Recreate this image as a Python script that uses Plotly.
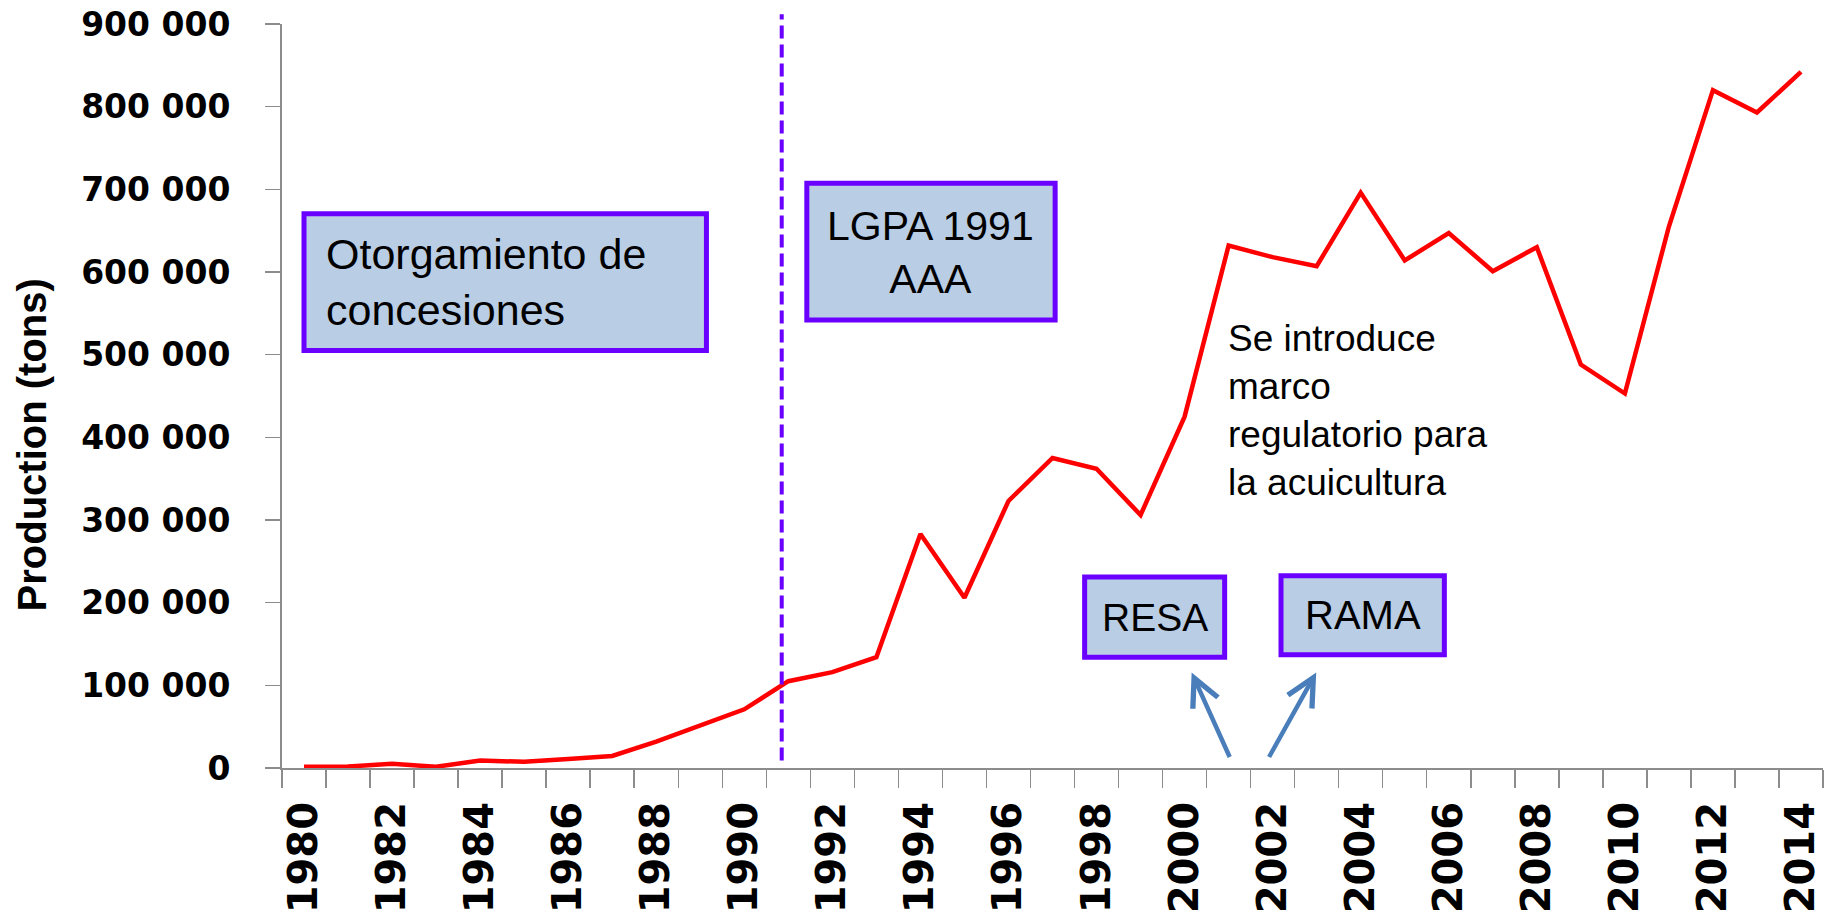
import plotly.graph_objects as go

years = [1980, 1981, 1982, 1983, 1984, 1985, 1986, 1987, 1988, 1989,
         1990, 1991, 1992, 1993, 1994, 1995, 1996, 1997, 1998, 1999,
         2000, 2001, 2002, 2003, 2004, 2005, 2006, 2007, 2008, 2009,
         2010, 2011, 2012, 2013, 2014]
production = [1500, 1800, 5000, 1500, 9000, 7500, 11000, 14500, 32000, 51000,
              71000, 105000, 116000, 134000, 283000, 206000, 323000, 375000, 362000, 306000,
              425000, 632000, 618000, 607000, 696000, 614000, 647000, 601000, 630000, 488000,
              453000, 655000, 820000, 793000, 842000]
tick_years = [1980, 1982, 1984, 1986, 1988, 1990, 1992, 1994, 1996, 1998,
              2000, 2002, 2004, 2006, 2008, 2010, 2012, 2014]
y_ticks = [0, 100000, 200000, 300000, 400000, 500000, 600000, 700000, 800000, 900000]
y_tick_text = ["0", "100 000", "200 000", "300 000", "400 000", "500 000",
               "600 000", "700 000", "800 000", "900 000"]
boundaries = [y - 0.5 for y in years] + [years[-1] + 0.5]

VIOLET = "#6A00FF"
BOXFILL = "#B9CDE5"
ARROW = "#4A7EBB"
TXT = "Liberation Sans, Arial, sans-serif"
TICKFONT = dict(family="DejaVu Sans, Verdana, sans-serif", color="black", weight="bold")

fig = go.Figure()
fig.add_trace(go.Scatter(x=years, y=production, mode="lines",
                         line=dict(color="#FF0000", width=4.5), hoverinfo="skip",
                         showlegend=False))

fig.update_layout(
    width=1845, height=921,
    margin=dict(l=282, r=22, t=24, b=153, autoexpand=False),
    paper_bgcolor="white", plot_bgcolor="white",
    showlegend=False,
    xaxis=dict(range=[1979.5, 2014.5], tickmode="array", tickvals=tick_years,
               ticktext=[str(t) for t in tick_years], tickangle=-90,
               ticks="", showgrid=False, zeroline=False, automargin=False,
               showline=True, linecolor="#8C8C8C", linewidth=2,
               tickfont=dict(size=40, **TICKFONT), ticklabelstandoff=16,
               ticklabeloverflow="allow",
               minor=dict(tickmode="array", tickvals=boundaries, ticks="outside",
                          ticklen=18, tickcolor="#8C8C8C", tickwidth=1.5, showgrid=False)),
    yaxis=dict(range=[0, 900000], tickmode="array", tickvals=y_ticks, ticktext=y_tick_text,
               ticks="outside", ticklen=15, tickcolor="#8C8C8C", tickwidth=1.5,
               showgrid=False, zeroline=False, showline=True, linecolor="#8C8C8C",
               linewidth=2, automargin=False, ticklabeloverflow="allow",
               tickfont=dict(size=33, **TICKFONT), ticklabelstandoff=28),
)

# y-axis title
fig.add_annotation(xref="paper", yref="paper", x=-0.162, y=0.434, text="Production (tons)",
                   textangle=-90, showarrow=False, xanchor="center", yanchor="middle",
                   font=dict(family=TXT, size=40, color="black", weight="bold"))

# vertical dashed line (LGPA 1991)
fig.add_shape(type="line", xref="x", yref="paper", x0=1990.85, x1=1990.85,
              y0=0.01, y1=1.013, line=dict(color=VIOLET, width=4, dash="13px,6px"))

# boxes
boxes = [
    (1980.0, 1989.14, 505000, 670500),
    (1991.42, 1997.06, 542000, 707500),
    (1997.73, 2000.91, 134000, 231000),
    (2002.19, 2005.90, 137000, 232500),
]
for x0, x1, y0, y1 in boxes:
    fig.add_shape(type="rect", xref="x", yref="y", x0=x0, x1=x1, y0=y0, y1=y1,
                  fillcolor=BOXFILL, line=dict(color=VIOLET, width=5), layer="above")

fig.add_annotation(x=1980.45, y=588000, xref="x", yref="y", showarrow=False,
                   text="Otorgamiento de<br>concesiones", align="left",
                   xanchor="left", yanchor="middle",
                   font=dict(family=TXT, size=43, color="black"))
fig.add_annotation(x=1994.24, y=624000, xref="x", yref="y", showarrow=False,
                   text="LGPA 1991<br>AAA", align="center",
                   xanchor="center", yanchor="middle",
                   font=dict(family=TXT, size=41, color="black"))
fig.add_annotation(x=1999.32, y=182000, xref="x", yref="y", showarrow=False,
                   text="RESA", xanchor="center", yanchor="middle",
                   font=dict(family=TXT, size=39, color="black"))
fig.add_annotation(x=2004.05, y=185000, xref="x", yref="y", showarrow=False,
                   text="RAMA", xanchor="center", yanchor="middle",
                   font=dict(family=TXT, size=40, color="black"))
fig.add_annotation(x=2000.94, y=432000, xref="x", yref="y", showarrow=False,
                   text="Se introduce<br>marco<br>regulatorio para<br>la acuicultura",
                   align="left", xanchor="left", yanchor="middle",
                   font=dict(family=TXT, size=37, color="black"))

# arrows
for hx, hy, tx, ty in [(2000.16, 115500, 2001.04, 11500), (2002.99, 115500, 2001.90, 11500)]:
    fig.add_annotation(x=hx, y=hy, ax=tx, ay=ty, xref="x", yref="y", axref="x", ayref="y",
                       text="", showarrow=True, arrowhead=5, arrowsize=1.2,
                       arrowwidth=4.5, arrowcolor=ARROW)

fig.write_html("out.html", config={"displayModeBar": False, "staticPlot": True},
               post_script="document.body.style.margin='0';document.body.style.overflow='hidden';")
